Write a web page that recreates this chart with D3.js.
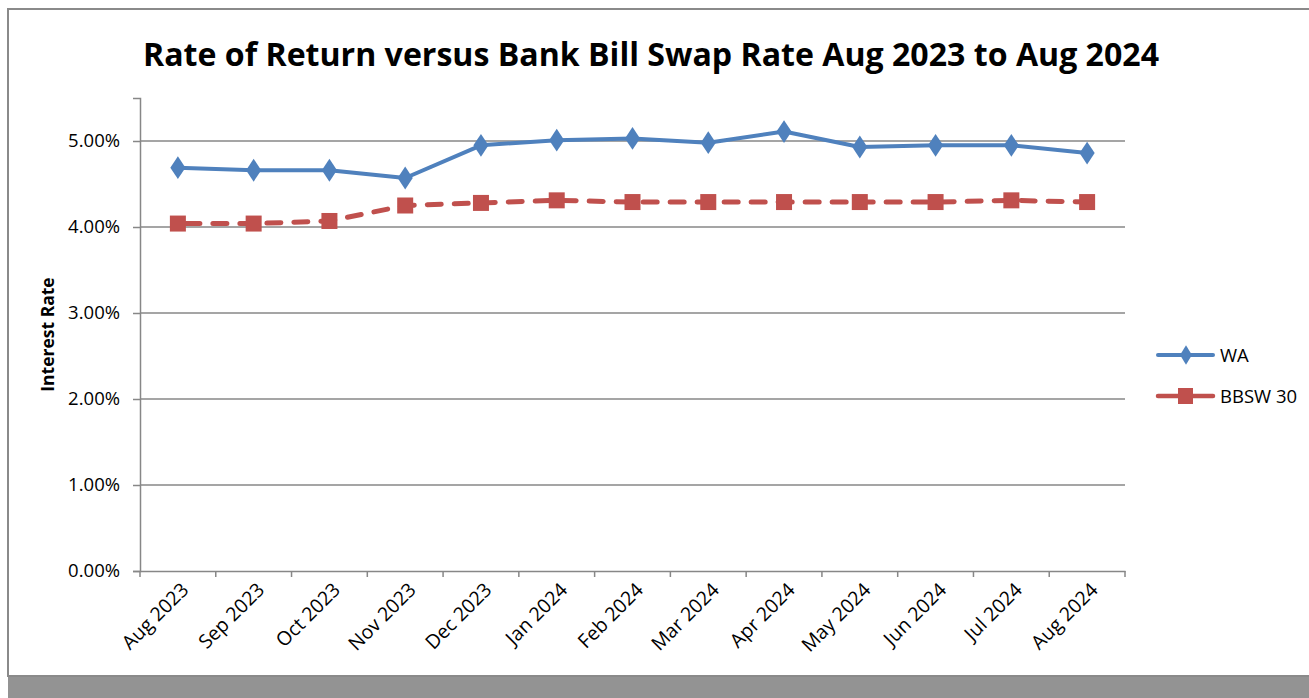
<!DOCTYPE html>
<html>
<head>
<meta charset="utf-8">
<script src="https://cdn.jsdelivr.net/npm/d3@7"></script>
<style>
  body { margin: 0; background: #fff; }
  text { font-family: "Open Sans", "Noto Sans", sans-serif; fill: #000; }
</style>
</head>
<body>
<div id="chart"></div>
<script>
const months = ["Aug 2023", "Sep 2023", "Oct 2023", "Nov 2023", "Dec 2023", "Jan 2024",
  "Feb 2024", "Mar 2024", "Apr 2024", "May 2024", "Jun 2024", "Jul 2024", "Aug 2024"];
const waValues = [4.69, 4.66, 4.66, 4.57, 4.95, 5.01, 5.03, 4.98, 5.11, 4.93, 4.95, 4.95, 4.86];
const bbswValues = [4.04, 4.04, 4.07, 4.25, 4.28, 4.31, 4.29, 4.29, 4.29, 4.29, 4.29, 4.31, 4.29];
const yTicks = [0, 1, 2, 3, 4, 5];
const seriesNames = ["WA", "BBSW 30"];

const width = 1309, height = 698;
const margin = { top: 98, right: 184, bottom: 127, left: 140 };
const blue = "#4f81bd", red = "#c0504d", grid = "#878787";

const svg = d3.select("#chart").append("svg")
  .attr("width", width)
  .attr("height", height);

// shadow band + frame
svg.append("rect")
  .attr("x", 8).attr("y", 676)
  .attr("width", width - 8).attr("height", height - 676)
  .attr("fill", "#939393");
svg.append("rect")
  .attr("x", 8).attr("y", 9)
  .attr("width", width + 10).attr("height", 667)
  .attr("fill", "#fff")
  .attr("stroke", "#8a8a8a")
  .attr("stroke-width", 2);

const x = d3.scaleBand()
  .domain(months)
  .range([margin.left, width - margin.right]);

const y = d3.scaleLinear()
  .domain([0, 5.5])
  .range([height - margin.bottom, margin.top]);

// gridlines
svg.append("g")
  .selectAll("line")
  .data(yTicks.filter(d => d > 0))
  .join("line")
  .attr("x1", margin.left).attr("x2", width - margin.right)
  .attr("y1", d => y(d)).attr("y2", d => y(d))
  .attr("stroke", grid)
  .attr("stroke-width", 1.5);

// y axis
const yAxis = svg.append("g")
  .attr("transform", `translate(${margin.left},0)`)
  .call(d3.axisLeft(y).tickValues(yTicks).tickSize(7).tickPadding(13)
    .tickFormat(d => d.toFixed(2) + "%"));
yAxis.select(".domain").attr("stroke", grid).attr("stroke-width", 1.5);
yAxis.selectAll(".tick line").attr("stroke", grid).attr("stroke-width", 1.5);
yAxis.selectAll(".tick text")
  .style("font-family", "'Open Sans', sans-serif")
  .style("font-size", "18.5px")
  .attr("fill", "#000");

// x axis
const xAxis = svg.append("g")
  .attr("transform", `translate(0,${y(0)})`)
  .call(d3.axisBottom(x).tickSize(0).tickPadding(0));
xAxis.select(".domain").attr("stroke", grid).attr("stroke-width", 1.5);
xAxis.selectAll(".tick text")
  .style("font-family", "'Open Sans', sans-serif")
  .style("font-size", "19.5px")
  .attr("fill", "#000")
  .attr("text-anchor", "end")
  .attr("dy", null)
  .attr("transform", "translate(12,20) rotate(-45)");

// x tick marks between categories
svg.append("g")
  .selectAll("line")
  .data(months.concat(["end"]))
  .join("line")
  .attr("x1", (d, i) => margin.left + i * x.step())
  .attr("x2", (d, i) => margin.left + i * x.step())
  .attr("y1", y(0)).attr("y2", y(0) + 6)
  .attr("stroke", grid)
  .attr("stroke-width", 1.5);

const cx = d => x(d) + x.bandwidth() / 2;

// BBSW line
svg.append("path")
  .datum(bbswValues)
  .attr("fill", "none")
  .attr("stroke", red)
  .attr("stroke-width", 5)
  .attr("stroke-dasharray", "14,13")
  .attr("stroke-dashoffset", -8)
  .attr("stroke-linecap", "round")
  .attr("d", d3.line().x((d, i) => cx(months[i])).y(d => y(d)));

svg.append("g")
  .selectAll("rect")
  .data(bbswValues)
  .join("rect")
  .attr("x", (d, i) => cx(months[i]) - 8)
  .attr("y", d => y(d) - 8)
  .attr("width", 16).attr("height", 16)
  .attr("fill", red);

// WA line
svg.append("path")
  .datum(waValues)
  .attr("fill", "none")
  .attr("stroke", blue)
  .attr("stroke-width", 4)
  .attr("stroke-linejoin", "round")
  .attr("d", d3.line().x((d, i) => cx(months[i])).y(d => y(d)));

const diamond = d3.symbol().type(d3.symbolDiamond).size(150);
svg.append("g")
  .selectAll("path")
  .data(waValues)
  .join("path")
  .attr("transform", (d, i) => `translate(${cx(months[i])},${y(d)}) scale(1.15,1)`)
  .attr("d", diamond)
  .attr("fill", blue);

// y axis title
svg.append("text")
  .attr("transform", `translate(54,${(y(0) + y(5.5)) / 2}) rotate(-90)`)
  .attr("text-anchor", "middle")
  .style("font-size", "17.5px")
  .style("font-weight", "bold")
  .text("Interest Rate");

// title
svg.append("text")
  .attr("x", 651).attr("y", 66)
  .attr("text-anchor", "middle")
  .attr("textLength", 1016)
  .attr("lengthAdjust", "spacingAndGlyphs")
  .style("font-size", "32px")
  .style("font-weight", "bold")
  .text("Rate of Return versus Bank Bill Swap Rate Aug 2023 to Aug 2024");

// legend
const legend = svg.append("g").attr("transform", "translate(1158,355)");
const colors = [blue, red];
seriesNames.forEach((name, i) => {
  const g = legend.append("g").attr("transform", `translate(0,${i * 41})`);
  g.append("line")
    .attr("x1", 0).attr("x2", 55)
    .attr("stroke", colors[i])
    .attr("stroke-width", i === 0 ? 4 : 4.5)
    .attr("stroke-linecap", "round");
  if (i === 0) {
    g.append("path").attr("d", diamond).attr("transform", "translate(28,0) scale(0.9,0.85)").attr("fill", blue);
  } else {
    g.append("rect").attr("x", 20).attr("y", -8).attr("width", 15).attr("height", 16).attr("fill", red);
  }
  g.append("text")
    .attr("x", 62).attr("y", 7)
    .style("font-size", "18.5px")
    .text(name);
});
</script>
</body>
</html>
